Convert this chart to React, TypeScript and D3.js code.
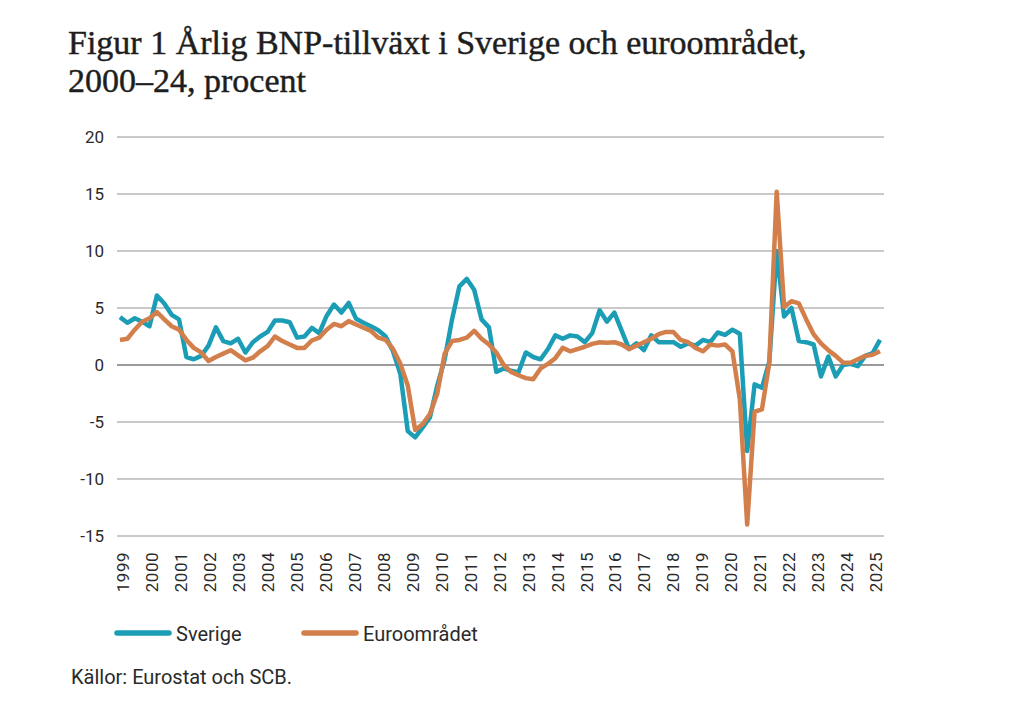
import * as d3 from "d3";
import React, {useEffect, useRef} from "react";

// tick labels
const yearLabels = [
  "1999", "2000", "2001", "2002", "2003", "2004", "2005", "2006", "2007",
  "2008", "2009", "2010", "2011", "2012", "2013", "2014", "2015", "2016",
  "2017", "2018", "2019", "2020", "2021", "2022", "2023", "2024", "2025",
];
const yTicks = [20, 15, 10, 5, 0, -5, -10, -15];

// quarterly y/y growth, 1999K1 - 2024K4
const sverige = [
  4.2, 3.7, 4.1, 3.8, 3.4, 6.1, 5.4, 4.4, 4.0, 0.7, 0.5, 0.8, 1.7, 3.3, 2.1, 1.9,
  2.3, 1.1, 2.0, 2.5, 2.9, 3.9, 3.9, 3.75, 2.4, 2.5, 3.25, 2.8, 4.3, 5.3, 4.6, 5.45,
  4.05, 3.7, 3.4, 3.05, 2.5, 1.2, -0.8, -5.8, -6.35, -5.5, -4.6, -1.8, 0.5, 4.0, 6.9, 7.55,
  6.6, 4.0, 3.3, -0.6, -0.3, -0.5, -0.65, 1.1, 0.7, 0.5, 1.4, 2.6, 2.3, 2.6, 2.5, 2.0,
  2.8, 4.8, 3.8, 4.6, 3.0, 1.4, 1.9, 1.3, 2.6, 2.0, 2.0, 2.0, 1.6, 1.9, 1.7, 2.2,
  2.0, 2.85, 2.65, 3.1, 2.75, -7.55, -1.7, -2.0, 0.3, 10.0, 4.25, 5.0, 2.1, 2.0, 1.8, -1.0,
  0.75, -1.0, 0.0, 0.1, -0.1, 0.8, 1.05, 2.2,
];
const euroomradet = [
  2.2, 2.3, 3.1, 3.8, 4.1, 4.65, 4.0, 3.4, 3.1, 2.2, 1.5, 1.1, 0.35, 0.7, 1.0, 1.3,
  0.85, 0.4, 0.64, 1.2, 1.65, 2.5, 2.1, 1.8, 1.5, 1.5, 2.15, 2.4, 3.1, 3.6, 3.4, 3.85,
  3.55, 3.27, 3.0, 2.4, 2.2, 1.4, 0.1, -1.8, -5.7, -5.2, -4.3, -2.5, 1.0, 2.1, 2.2, 2.4,
  3.0, 2.3, 1.8, 1.1, 0.0, -0.6, -0.9, -1.15, -1.25, -0.3, 0.1, 0.6, 1.5, 1.2, 1.4, 1.6,
  1.85, 2.0, 1.95, 2.0, 1.8, 1.4, 1.7, 2.0, 2.3, 2.7, 2.9, 2.9, 2.2, 2.0, 1.5, 1.2,
  1.8, 1.7, 1.8, 1.2, -3.0, -14.0, -4.1, -3.9, 0.2, 15.2, 5.1, 5.6, 5.4, 4.0, 2.7, 1.9,
  1.3, 0.8, 0.2, 0.2, 0.5, 0.8, 0.9, 1.2,
];

const quarters = sverige.map((_, i) => `${1999 + Math.floor(i / 4)}K${(i % 4) + 1}`);

const series = [
  {name: "Sverige", values: sverige, color: "#1b9db6"},
  {name: "Euroområdet", values: euroomradet, color: "#d27f4b"},
];

const sans = "Roboto, 'DejaVu Sans', sans-serif";

const Chart: React.FC = () => {
  const svgRef = useRef<SVGSVGElement | null>(null);

  useEffect(() => {
    if (!svgRef.current) {
      return
    }
    const svg = d3.select(svgRef.current);
    svg.selectAll("*").remove();

    const x = d3.scalePoint<string>().domain(quarters).range([120, 880]);
    const xLabel = d3.scalePoint<string>().domain(yearLabels).range([123, 876]);
    const y = d3.scaleLinear().domain([-15, 20]).range([536, 137]);

    // title
    const title = svg.append("text")
      .attr("x", 68)
      .attr("fill", "#1e1e1e")
      .attr("stroke", "#1e1e1e")
      .attr("stroke-width", 0.45)
      .style("font-family", "'Liberation Serif', serif")
      .style("font-size", "34px");
    title.append("tspan").attr("x", 68).attr("y", 54)
      .text("Figur 1 Årlig BNP-tillväxt i Sverige och euroområdet,");
    title.append("tspan").attr("x", 68).attr("y", 92)
      .text("2000–24, procent");

    // grid
    svg.append("g")
      .selectAll("line")
      .data(yTicks)
      .enter().append("line")
      .attr("x1", 117)
      .attr("x2", 884)
      .attr("y1", d => y(d))
      .attr("y2", d => y(d))
      .attr("stroke", d => d === 0 ? "#9a9a9a" : "#c9c9c9")
      .attr("stroke-width", d => d === 0 ? 2.2 : 1.8);

    svg.append("g")
      .selectAll("text")
      .data(yTicks)
      .enter().append("text")
      .attr("x", 104)
      .attr("y", d => y(d))
      .attr("dy", "0.36em")
      .attr("text-anchor", "end")
      .attr("fill", "#2a2a2a")
      .style("font-family", sans)
      .style("font-size", "17px")
      .text(d => d);

    svg.append("g")
      .selectAll("text")
      .data(yearLabels)
      .enter().append("text")
      .attr("transform", d => `translate(${xLabel(d)},552) rotate(-90)`)
      .attr("dy", "0.36em")
      .attr("text-anchor", "end")
      .attr("fill", "#2a2a2a")
      .style("font-family", sans)
      .style("font-size", "17px")
      .style("letter-spacing", "0.5px")
      .text(d => d);

    // lines
    const line = d3.line<number>()
      .x((_, i) => x(quarters[i])!)
      .y(d => y(d));

    svg.append("g")
      .selectAll("path")
      .data(series)
      .enter().append("path")
      .attr("d", d => line(d.values))
      .attr("fill", "none")
      .attr("stroke", d => d.color)
      .attr("stroke-width", 4.5)
      .attr("stroke-linejoin", "round");

    // legend
    const legend = svg.append("g")
      .selectAll("g")
      .data(series)
      .enter().append("g")
      .attr("transform", (_, i) => `translate(${117 + i * 187},633)`);
    legend.append("line")
      .attr("x1", 0)
      .attr("x2", 52)
      .attr("stroke", d => d.color)
      .attr("stroke-width", 5.5)
      .attr("stroke-linecap", "round");
    legend.append("text")
      .attr("x", 59)
      .attr("y", 7.5)
      .attr("fill", "#2a2a2a")
      .style("font-family", sans)
      .style("font-size", "20px")
      .text(d => d.name);

    svg.append("text")
      .attr("x", 71)
      .attr("y", 684)
      .attr("fill", "#2a2a2a")
      .style("font-family", sans)
      .style("font-size", "20px")
      .text("Källor: Eurostat och SCB.");
  }, []);

  return (
    <svg
      ref={svgRef}
      width={1024}
      height={715}
      style={{position: "absolute", left: 0, top: 0, background: "#fff"}}
    />
  );
}

export default function App() {
  return <Chart />;
}
